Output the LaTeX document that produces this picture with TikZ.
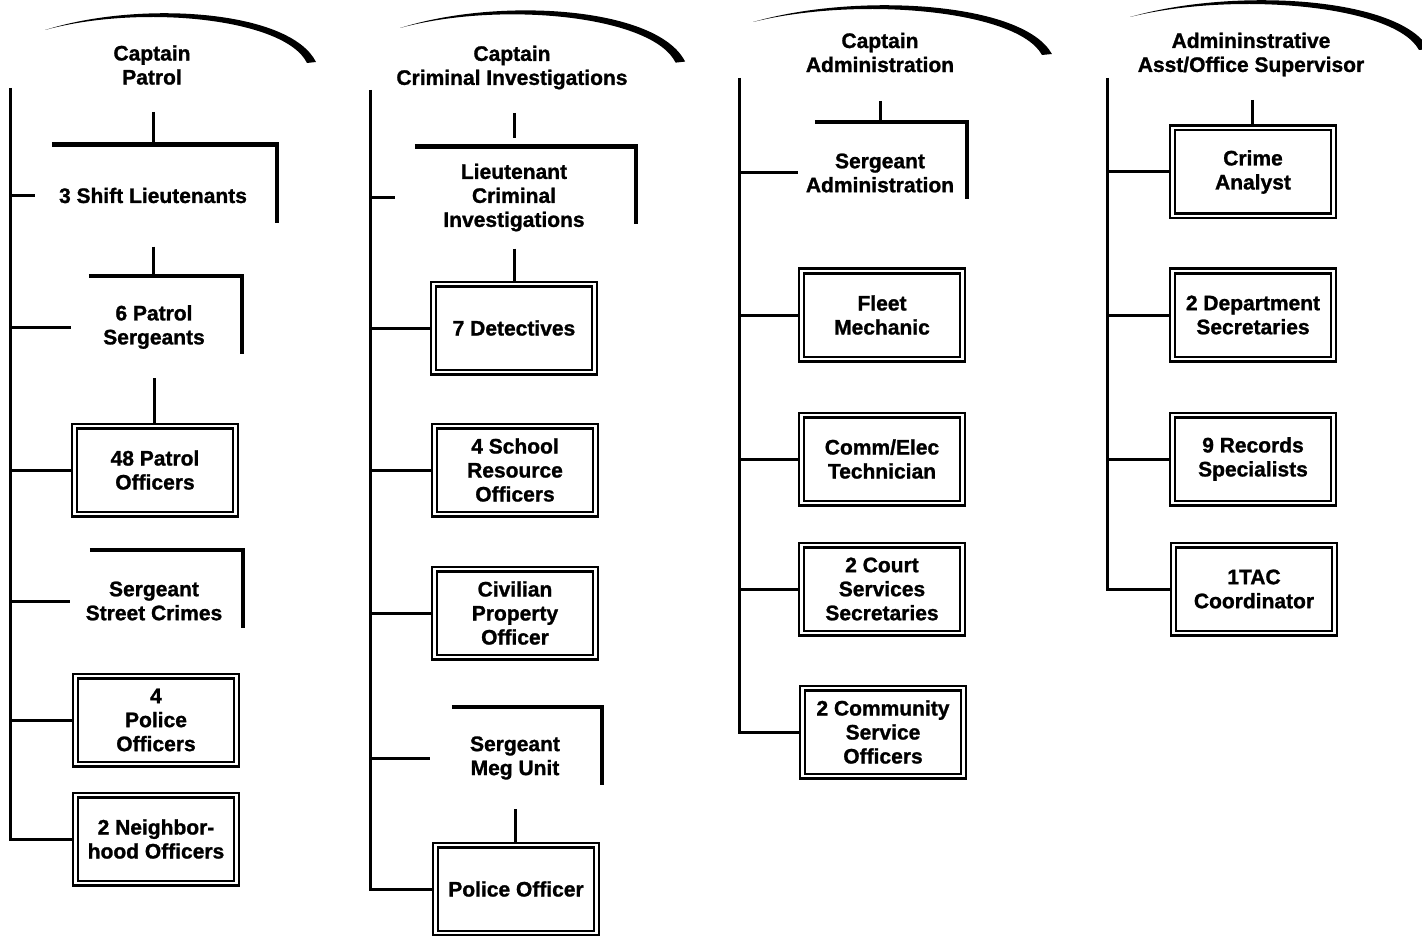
\documentclass[tikz,border=0pt]{standalone}
\usepackage{fontspec}
\setmainfont{Liberation Sans}[BoldFeatures={FakeBold=1.2}]
\usetikzlibrary{backgrounds}
\begin{document}
\begin{tikzpicture}[x=1pt,y=-1pt,
  every node/.style={font=\fontsize{21}{24}\selectfont\bfseries, align=center, inner sep=0pt},
  postbox/.style={draw, line width=2.3pt, double, double distance=2.4pt, minimum width=161pt, minimum height=88pt},
  openbox/.style={minimum height=102pt},
  trunkline/.style={line width=3pt},
  conn/.style={line width=3pt},
  frameline/.style={line width=4.5pt},
  browfill/.style={fill=black}]
\useasboundingbox (0,0) rectangle (1422,936);

% ---------- eyebrow arcs ----------
\begin{scope}[shift={(45,30)}]
\fill[browfill] (0,0) .. controls (95,-30) and (245,-20) .. (271,32) -- (262,33) .. controls (240,-12) and (95,-26) .. (0,0) -- cycle;
\end{scope}
\begin{scope}[shift={(400,28)}, xscale=1.052, yscale=1.05]
\fill[browfill] (0,0) .. controls (95,-30) and (245,-20) .. (271,32) -- (262,33) .. controls (240,-12) and (95,-26) .. (0,0) -- cycle;
\end{scope}
\begin{scope}[shift={(753,22)}, xscale=1.103]
\fill[browfill] (0,0) .. controls (95,-30) and (245,-20) .. (271,32) -- (262,33) .. controls (240,-12) and (95,-26) .. (0,0) -- cycle;
\end{scope}
\begin{scope}[shift={(1130,17)}, xscale=1.103]
\fill[browfill] (0,0) .. controls (95,-30) and (245,-20) .. (271,32) -- (262,33) .. controls (240,-12) and (95,-26) .. (0,0) -- cycle;
\end{scope}

% ---------- column 1: Patrol ----------
\coordinate (t1) at (10,88);
\node (h1) at (152,65) {Captain\\Patrol};
\coordinate (c1) at (153,112);
\node[openbox, minimum width=248pt] (lt1) at (153,195.5) {3 Shift Lieutenants};
\node[openbox, minimum width=176pt] (ps1) at (154,327) {6 Patrol\\Sergeants};
\node[postbox] (po1) at (155,470) {48 Patrol\\Officers};
\node[openbox, minimum width=178pt] (sc1) at (154,601) {Sergeant\\Street Crimes};
\node[postbox] (pf1) at (156,720) {4\\Police\\Officers};
\node[postbox] (nh1) at (156,839) {2 Neighbor-\\hood Officers};
\draw[frameline] ([xshift=23pt]lt1.north west) -- (lt1.north east) -- ([yshift=-79pt]lt1.north east);
\draw[frameline] ([xshift=23pt]ps1.north west) -- (ps1.north east) -- ([yshift=-78pt]ps1.north east);
\draw[frameline] ([xshift=25pt]sc1.north west) -- (sc1.north east) -- ([yshift=-78pt]sc1.north east);

% ---------- column 2: Criminal Investigations ----------
\coordinate (t2) at (370,90);
\node (h2) at (512,67.5) {Captain\\Criminal Investigations};
\coordinate (c2) at (514,113);
\node[openbox, minimum width=244pt] (lt2) at (514,197.5) {Lieutenant\\Criminal\\Investigations};
\node[postbox] (dt2) at (514,328) {7 Detectives};
\node[postbox] (sr2) at (515,470) {4 School\\Resource\\Officers};
\node[postbox] (cp2) at (515,613) {Civilian\\Property\\Officer};
\node[openbox, minimum width=174pt] (mg2) at (515,758) {Sergeant\\Meg Unit};
\node[postbox] (po2) at (516,889) {Police Officer};
\draw[frameline] ([xshift=23pt]lt2.north west) -- (lt2.north east) -- ([yshift=-78pt]lt2.north east);
\draw[frameline] ([xshift=24pt]mg2.north west) -- (mg2.north east) -- ([yshift=-78pt]mg2.north east);

% ---------- column 3: Administration ----------
\coordinate (t3) at (739,78);
\node (h3) at (880,52.5) {Captain\\Administration};
\coordinate (c3) at (880,101);
\node[openbox, minimum width=174pt] (sa3) at (880,173) {Sergeant\\Administration};
\node[postbox] (fm3) at (882,315) {Fleet\\Mechanic};
\node[postbox] (ce3) at (882,459) {Comm/Elec\\Technician};
\node[postbox] (cs3) at (882,589) {2 Court\\Services\\Secretaries};
\node[postbox] (co3) at (883,732) {2 Community\\Service\\Officers};
\draw[frameline] ([xshift=22pt]sa3.north west) -- (sa3.north east) -- ([yshift=-77pt]sa3.north east);

% ---------- column 4: Administrative Assistant ----------
\coordinate (t4) at (1107,78);
\node (h4) at (1251,54.5) {Admininstrative\\Asst/Office Supervisor};
\coordinate (c4) at (1252,100);
\node[postbox] (ca4) at (1253,172) {Crime\\Analyst};
\node[postbox] (ds4) at (1253,315) {2 Department\\Secretaries};
\node[postbox] (rs4) at (1253,459) {9 Records\\Specialists};
\node[postbox] (tc4) at (1254,589) {1TAC\\Coordinator};

% ---------- connectors (behind the boxes) ----------
\begin{scope}[on background layer]
\fill[white] (0,0) rectangle (1422,936);
% column 1
\draw[conn] (c1) -- (c1 |- lt1.north);
\draw[conn] (lt1.south) -- (lt1.south |- ps1.north);
\draw[conn] (ps1.south) -- (ps1.south |- po1.north);
\draw[trunkline] (t1) |- (nh1.west);
\draw[conn] (lt1.west -| t1) -- ([xshift=6pt]lt1.west);
\draw[conn] (ps1.west -| t1) -- ([xshift=5pt]ps1.west);
\draw[conn] (po1.west -| t1) -- (po1.west);
\draw[conn] (sc1.west -| t1) -- ([xshift=5pt]sc1.west);
\draw[conn] (pf1.west -| t1) -- (pf1.west);
% column 2
\draw[conn] (c2) -- ([yshift=8pt]lt2.north);
\draw[conn] (lt2.south) -- (lt2.south |- dt2.north);
\draw[conn] (mg2.south) -- (mg2.south |- po2.north);
\draw[trunkline] (t2) |- (po2.west);
\draw[conn] (lt2.west -| t2) -- ([xshift=3pt]lt2.west);
\draw[conn] (dt2.west -| t2) -- (dt2.west);
\draw[conn] (sr2.west -| t2) -- (sr2.west);
\draw[conn] (cp2.west -| t2) -- (cp2.west);
\draw[conn] (mg2.west -| t2) -- ([xshift=2pt]mg2.west);
% column 3
\draw[conn] (c3) -- (c3 |- sa3.north);
\draw[trunkline] (t3) |- (co3.west);
\draw[conn] (sa3.west -| t3) -- ([xshift=5pt]sa3.west);
\draw[conn] (fm3.west -| t3) -- (fm3.west);
\draw[conn] (ce3.west -| t3) -- (ce3.west);
\draw[conn] (cs3.west -| t3) -- (cs3.west);
% column 4
\draw[conn] (c4) -- (c4 |- ca4.north);
\draw[trunkline] (t4) |- (tc4.west);
\draw[conn] (ca4.west -| t4) -- (ca4.west);
\draw[conn] (ds4.west -| t4) -- (ds4.west);
\draw[conn] (rs4.west -| t4) -- (rs4.west);
\end{scope}
\end{tikzpicture}
\end{document}
